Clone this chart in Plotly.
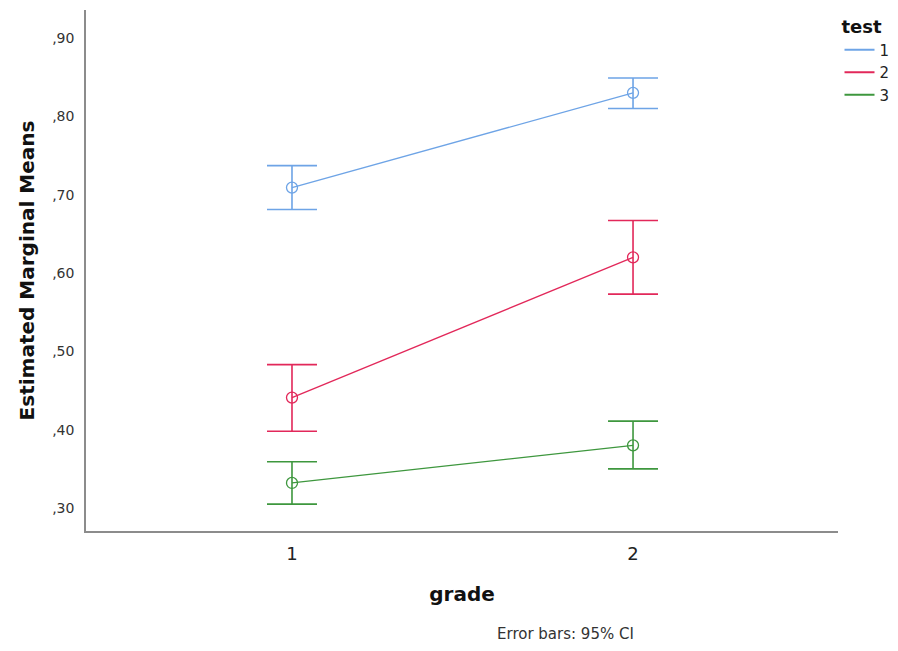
import plotly.graph_objects as go

# Estimated marginal means by grade for each test, with 95% CI bounds
grades = [1, 2]
tests = ["1", "2", "3"]
means = {
    "1": [0.709, 0.830],
    "2": [0.441, 0.620],
    "3": [0.332, 0.380],
}
ci_upper = {
    "1": [0.737, 0.849],
    "2": [0.483, 0.667],
    "3": [0.359, 0.411],
}
ci_lower = {
    "1": [0.681, 0.810],
    "2": [0.398, 0.573],
    "3": [0.305, 0.350],
}
y_tick_vals = [0.30, 0.40, 0.50, 0.60, 0.70, 0.80, 0.90]
y_tick_text = [",30", ",40", ",50", ",60", ",70", ",80", ",90"]
colors = {"1": "#6ea4e6", "2": "#e2285a", "3": "#3e973e"}

FONT = "DejaVu Sans, Verdana, sans-serif"

fig = go.Figure()
for t in tests:
    m = means[t]
    plus = [u - v for u, v in zip(ci_upper[t], m)]
    minus = [v - l for v, l in zip(m, ci_lower[t])]
    fig.add_trace(go.Scatter(
        x=grades, y=m, name=t, mode="lines+markers", showlegend=False,
        line=dict(color=colors[t], width=1.3),
        marker=dict(symbol="circle-open", size=11, color=colors[t],
                    line=dict(width=1.3, color=colors[t])),
        error_y=dict(type="data", symmetric=False, array=plus, arrayminus=minus,
                     color=colors[t], thickness=1.6, width=25),
    ))

# line-only legend entries
for t in tests:
    fig.add_trace(go.Scatter(
        x=[None], y=[None], name=t, mode="lines",
        line=dict(color=colors[t], width=2),
    ))

fig.update_layout(
    width=898, height=651,
    margin=dict(l=86, r=60, t=10, b=120, autoexpand=False),
    paper_bgcolor="white", plot_bgcolor="white",
    font=dict(family=FONT, color="#333333"),
    showlegend=True,
    legend=dict(
        x=1.002, y=1.0, xanchor="left", yanchor="top",
        title=dict(text="<b>test</b>", font=dict(size=18, color="#111111"), side="top"),
        font=dict(size=15, color="#222222"),
        tracegroupgap=0, itemwidth=30,
        bgcolor="rgba(0,0,0,0)",
    ),
    xaxis=dict(
        range=[0.396, 2.601], tickvals=grades, ticktext=["1", "2"],
        showgrid=False, zeroline=False,
        showline=True, linecolor="#8c8c8c", linewidth=1.5,
        ticks="", ticklabelstandoff=6, tickfont=dict(size=18, color="#222222"),
        title=dict(text="<b>grade</b>", font=dict(size=20, color="#111111"), standoff=24),
    ),
    yaxis=dict(
        range=[0.2707, 0.9357], tickvals=y_tick_vals, ticktext=y_tick_text,
        showgrid=False, zeroline=False,
        showline=True, linecolor="#8c8c8c", linewidth=1.5,
        ticks="", ticklabelstandoff=7, tickfont=dict(size=14, color="#333333"),
        title=dict(text="<b>Estimated Marginal Means</b>", font=dict(size=20, color="#111111"), standoff=12),
    ),
    annotations=[dict(
        text="Error bars: 95% CI", xref="paper", yref="paper",
        x=0.637, y=-0.198, xanchor="center", yanchor="middle",
        showarrow=False, font=dict(size=15, color="#333333"),
    )],
)

fig.write_html("out.html")
